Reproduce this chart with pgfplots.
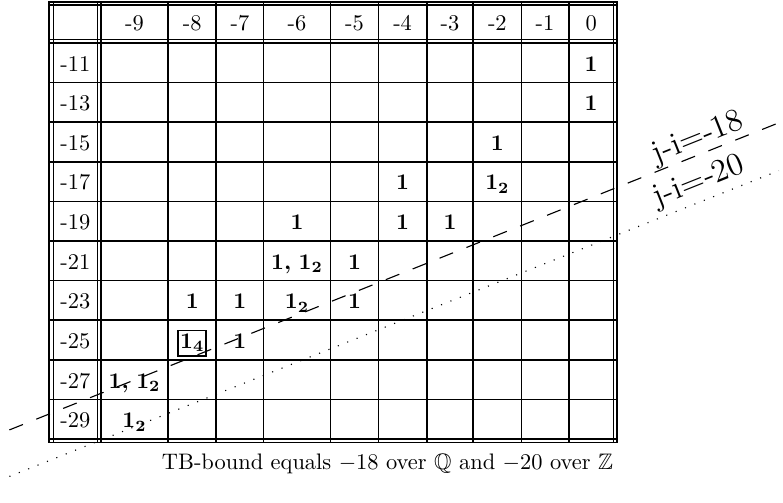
\documentclass[border=0pt]{standalone}
\usepackage{amssymb}
\usepackage{pgfplots}
\pgfplotsset{compat=1.18}
\protected\def\one{$\mathbf{1}$}
\protected\def\onetwo{$\mathbf{1_2}$}
\protected\def\both{$\mathbf{1}$\textbf{,} $\mathbf{1_2}$}
\protected\def\boxfour{{\setlength{\fboxsep}{0.5pt}\setlength{\fboxrule}{0.7pt}\fbox{\rule[-2.6pt]{0pt}{9.7pt}$\mathbf{1_4}$}}}
\pgfplotsset{
  cells/.style={only marks, mark=none, point meta=explicit symbolic,
    nodes near coords, nodes near coords style={anchor=base, inner sep=0pt}},
}
\begin{document}
\begin{tikzpicture}
\begin{axis}[
  x=0.4444pt, y=0.4444pt,
  xmin=0, xmax=783, ymin=0, ymax=502,
  y dir=reverse,
  hide axis, clip=false,
  unbounded coords=jump,
]
\addplot[draw=none] coordinates {(0,0) (783,502)};
% horizontal rules
\addplot[black, line width=0.75pt, line cap=rect] coordinates {
  (48.2,1) (617.5,1) (nan,nan)
  (48.2,4.2) (617.5,4.2) (nan,nan)
  (48.2,38.5) (617.5,38.5) (nan,nan)
  (48.2,41.8) (617.5,41.8) (nan,nan)
  (48.2,81.5) (617.5,81.5) (nan,nan)
  (48.2,121.3) (617.5,121.3) (nan,nan)
  (48.2,161) (617.5,161) (nan,nan)
  (48.2,200.8) (617.5,200.8) (nan,nan)
  (48.2,240.5) (617.5,240.5) (nan,nan)
  (48.2,280.2) (617.5,280.2) (nan,nan)
  (48.2,320) (617.5,320) (nan,nan)
  (48.2,359.7) (617.5,359.7) (nan,nan)
  (48.2,399.5) (617.5,399.5) (nan,nan)
  (48.2,439.2) (617.5,439.2) (nan,nan)
  (48.2,442.5) (617.5,442.5)
};
% vertical rules
\addplot[black, line width=0.75pt, line cap=rect] coordinates {
  (48.2,1) (48.2,442.5) (nan,nan)
  (52.5,1) (52.5,442.5) (nan,nan)
  (96.5,1) (96.5,442.5) (nan,nan)
  (100.2,1) (100.2,442.5) (nan,nan)
  (167.5,1) (167.5,442.5) (nan,nan)
  (215.8,1) (215.8,442.5) (nan,nan)
  (263.2,1) (263.2,442.5) (nan,nan)
  (330.2,1) (330.2,442.5) (nan,nan)
  (378.5,1) (378.5,442.5) (nan,nan)
  (426.8,1) (426.8,442.5) (nan,nan)
  (473.5,1) (473.5,442.5) (nan,nan)
  (521.8,1) (521.8,442.5) (nan,nan)
  (569.2,1) (569.2,442.5) (nan,nan)
  (614.2,1) (614.2,442.5) (nan,nan)
  (617.5,1) (617.5,442.5)
};
% j-i=-18 and j-i=-20
\addplot[black, line width=0.5pt, dash pattern=on 6.5pt off 6.4pt] coordinates {(8.3,430) (780,122)};
\addplot[black, line width=0.5pt, dash pattern=on 0.5pt off 4pt] coordinates {(8.3,476.7) (780,170)};
% header and row labels
\addplot[cells] coordinates {
  (133.85,29.5) [-9] (191.65,29.5) [-8] (239.5,29.5) [-7] (296.7,29.5) [-6]
  (354.35,29.5) [-5] (402.65,29.5) [-4] (450.15,29.5) [-3] (497.65,29.5) [-2]
  (545.5,29.5) [-1] (591.7,29.5) [0]
  (74.5,70.2) [-11] (74.5,109.9) [-13] (74.5,149.6) [-15] (74.5,189.4) [-17]
  (74.5,229.1) [-19] (74.5,268.9) [-21] (74.5,308.6) [-23] (74.5,348.4) [-25]
  (74.5,388.1) [-27] (74.5,427.8) [-29]
};
% cell entries
\addplot[cells] coordinates {
  (591.7,70.2) [\one] (591.7,109.9) [\one]
  (497.65,149.6) [\one] (497.65,189.4) [\onetwo]
  (402.65,189.4) [\one] (402.65,229.1) [\one] (450.15,229.1) [\one]
  (296.7,229.1) [\one] (296.7,268.9) [\both] (296.7,308.6) [\onetwo]
  (354.35,268.9) [\one] (354.35,308.6) [\one]
  (191.65,308.6) [\one] (239.5,308.6) [\one]
  (191.65,348.4) [\boxfour] (239.5,348.4) [\one]
  (133.85,388.1) [\both] (133.85,427.8) [\onetwo]
};
% line labels
\addplot[cells, nodes near coords style={anchor=center, font=\Large, rotate=21.75}] coordinates {
  (699,138) [j-i=-18] (700,181.5) [j-i=-20]
};
% caption
\addplot[cells] coordinates {
  (387.5,469.3) [TB-bound equals $-18$ over $\mathbb{Q}$ and $-20$ over $\mathbb{Z}$]
};
\end{axis}
\end{tikzpicture}
\end{document}
